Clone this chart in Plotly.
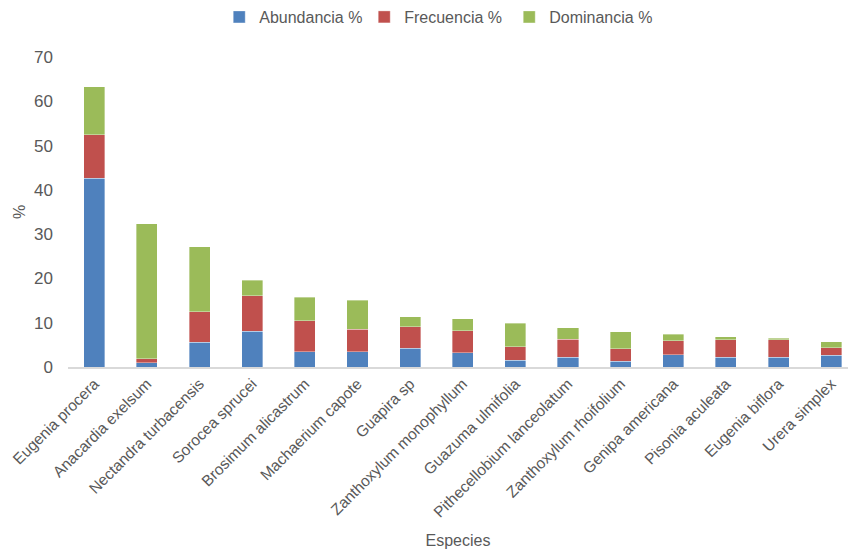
import plotly.graph_objects as go

especies = [
    "Eugenia procera", "Anacardia exelsum", "Nectandra turbacensis",
    "Sorocea sprucei", "Brosimum alicastrum", "Machaerium capote",
    "Guapira sp", "Zanthoxylum monophyllum", "Guazuma ulmifolia",
    "Pithecellobium lanceolatum", "Zanthoxylum rhoifolium",
    "Genipa americana", "Pisonia aculeata", "Eugenia biflora",
    "Urera simplex",
]
abundancia = [42.6, 1.0, 5.6, 8.1, 3.5, 3.5, 4.2, 3.2, 1.5, 2.2, 1.3, 2.8, 2.2, 2.2, 2.6]
frecuencia = [9.8, 0.9, 6.9, 8.0, 7.0, 5.0, 4.9, 5.0, 3.1, 4.1, 2.8, 3.1, 4.0, 4.0, 1.8]
dominancia = [10.9, 30.5, 14.7, 3.5, 5.2, 6.6, 2.3, 2.7, 5.3, 2.6, 3.9, 1.5, 0.6, 0.3, 1.3]

series = [
    ("Abundancia %", abundancia, "#4F81BD"),
    ("Frecuencia %", frecuencia, "#C0504D"),
    ("Dominancia %", dominancia, "#9BBB59"),
]

FONT = "Liberation Sans, Arial, sans-serif"
GREY = "#595959"
SIZE = 15.5

fig = go.Figure()
for name, vals, color in series:
    fig.add_trace(go.Bar(
        x=especies, y=vals, name=name,
        marker=dict(color=color, line=dict(color="rgba(255,255,255,0.6)", width=0.6)),
    ))

fig.update_layout(
    barmode="stack",
    bargap=0.6,
    width=848, height=556,
    margin=dict(l=68, r=0, t=57, b=189),
    plot_bgcolor="white", paper_bgcolor="white",
    font=dict(family=FONT, size=SIZE, color=GREY),
    showlegend=True,
    legend=dict(
        orientation="h", xref="container", yref="container",
        x=0.515, xanchor="center", y=1.0, yanchor="top",
        font=dict(family=FONT, size=SIZE + 0.5, color=GREY),
        traceorder="normal", itemwidth=30, entrywidth=100,
    ),
    xaxis=dict(
        tickangle=-45, showgrid=False, automargin=False,
        showline=True, linecolor="#D9D9D9", linewidth=1.5,
        range=[-0.5, 14.32],
        tickfont=dict(family=FONT, size=SIZE, color=GREY),
        title=dict(text="Especies", font=dict(family=FONT, size=SIZE + 0.5, color=GREY), standoff=15),
    ),
    yaxis=dict(
        range=[0, 70], dtick=10, showgrid=False, zeroline=False, showline=False,
        automargin=False, ticklabelstandoff=14,
        tickfont=dict(family=FONT, size=SIZE + 1.5, color=GREY),
        title=dict(text="%", font=dict(family=FONT, size=SIZE + 0.5, color=GREY), standoff=4),
    ),
)

fig.write_html("out.html")
